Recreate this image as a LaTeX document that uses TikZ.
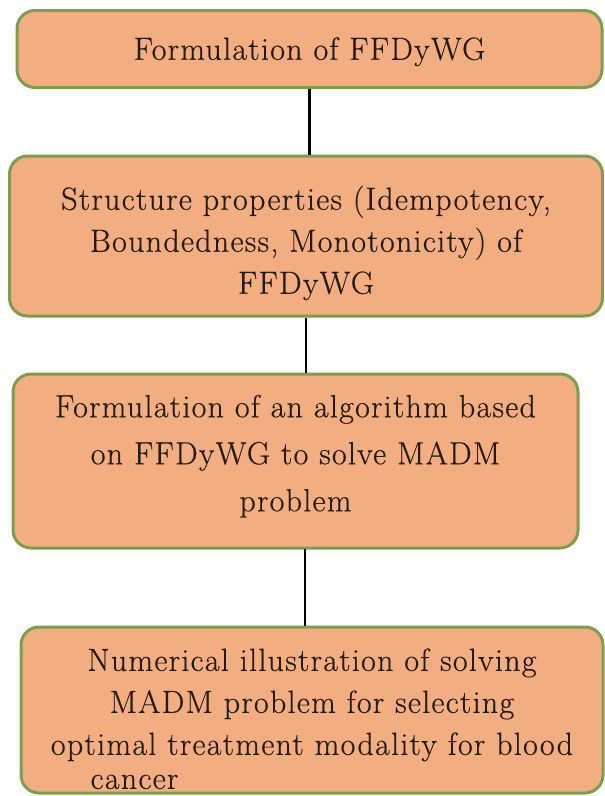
\documentclass[tikz,border=0pt]{standalone}
\usepackage{fontspec}
\setmainfont{Latin Modern Roman}[LetterSpace=4,FakeBold=0.4]
\usepackage{xcolor}
\usetikzlibrary{positioning,calc}
\definecolor{stagefill}{HTML}{F2AD80}
\definecolor{stageline}{HTML}{7E9E4F}
\definecolor{stagetext}{HTML}{231A14}
\tikzset{%
	stage/.style = {draw=stageline, fill=stagefill, line width=3pt, rectangle, rounded corners=18pt, align=center, text=stagetext, inner sep=0pt, font=\fontsize{32}{42}\selectfont},
	link/.style  = {line width=2.5pt, black},
}
\newcommand{\pushdown}[1]{\rule{0pt}{#1}}
\newcommand{\pullup}[1]{\rule[-#1]{0pt}{0pt}}

\begin{document}
\begin{tikzpicture}[x=1pt,y=-1pt]
	\useasboundingbox (0,0) rectangle (605,796);
	
	\node[stage, minimum width=585pt, minimum height=77pt] (form) at (309.5,49) {\pushdown{28pt}Formulation of FFDyWG};
	\node[stage, minimum width=593pt, minimum height=160pt] (prop) at (306,236) {\pushdown{38pt}Structure properties (Idempotency,\\ Boundedness, Monotonicity) of\\ FFDyWG};
	\node[stage, minimum width=565pt, minimum height=174pt] (algo) at (295.5,461) {Formulation of an algorithm based\\[5pt] on FFDyWG to solve MADM\\[5pt] problem\pullup{16pt}};
	\node[stage, minimum width=582pt, minimum height=166pt] (illu) at (312,710) {\pushdown{40pt}Numerical illustration of solving\\ MADM problem for selecting\\ optimal treatment modality for blood\\[-8pt] cancer\hspace*{355pt}};
	
	\coordinate (algo-out) at (305,549);
	\draw[link] (form.south) -- (form.south |- prop.north);
	\draw[link] (prop.south) -- (prop.south |- algo.north);
	\draw[link] (algo-out) -- (algo-out |- illu.north);
\end{tikzpicture}
\end{document}
